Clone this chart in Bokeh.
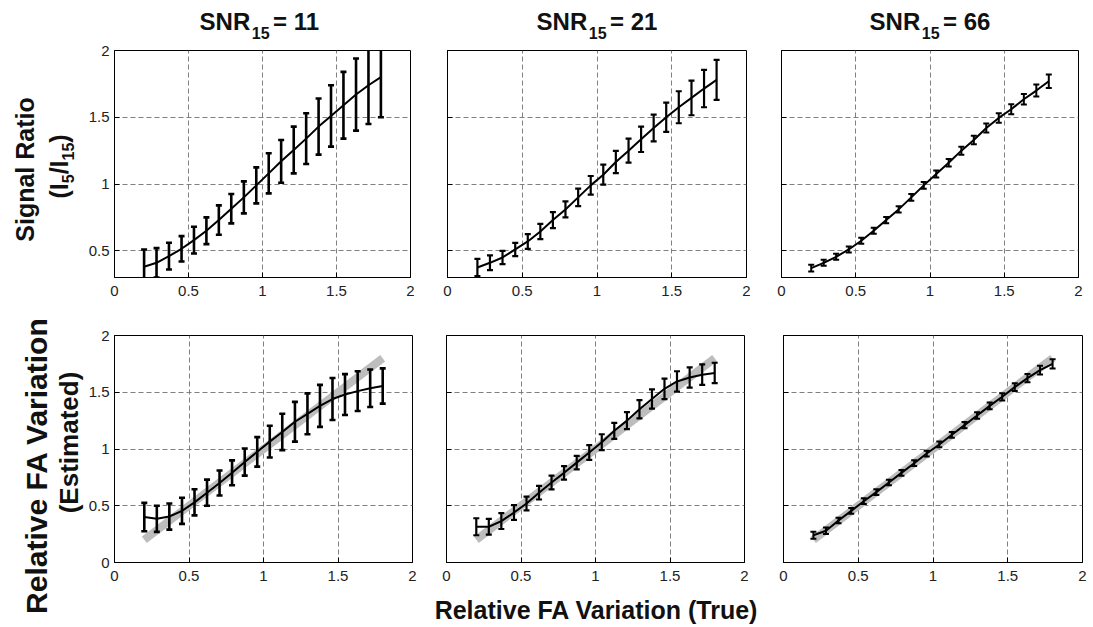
import math
from bokeh.plotting import figure
from bokeh.layouts import row, column
from bokeh.models import Label, FixedTicker, Range1d, CustomJSTickFormatter
from bokeh.embed import file_html
from bokeh.resources import INLINE

# ---------------- data ----------------
x_true = [0.2, 0.284, 0.368, 0.453, 0.537, 0.621, 0.705, 0.789, 0.874, 0.958,
          1.042, 1.126, 1.211, 1.295, 1.379, 1.463, 1.547, 1.632, 1.716, 1.8]
ideal_est = [0.2, 0.284, 0.368, 0.453, 0.537, 0.621, 0.705, 0.789, 0.874, 0.958,
             1.042, 1.126, 1.211, 1.295, 1.379, 1.463, 1.547, 1.632, 1.716, 1.8]

snr_labels = ["11", "21", "66"]

ratio_snr11 = [0.38, 0.41, 0.46, 0.515, 0.58, 0.65, 0.73, 0.815, 0.90, 0.99,
               1.08, 1.17, 1.255, 1.34, 1.43, 1.51, 1.59, 1.67, 1.74, 1.80]
ratio_err11 = [0.13, 0.11, 0.10, 0.095, 0.10, 0.10, 0.11, 0.11, 0.12, 0.135,
               0.15, 0.16, 0.175, 0.19, 0.21, 0.23, 0.25, 0.27, 0.29, 0.30]
ratio_snr21 = [0.375, 0.41, 0.45, 0.51, 0.57, 0.645, 0.73, 0.81, 0.90, 0.99,
               1.07, 1.165, 1.25, 1.335, 1.42, 1.50, 1.575, 1.645, 1.715, 1.78]
ratio_err21 = [0.065, 0.055, 0.05, 0.05, 0.055, 0.057, 0.06, 0.06, 0.065, 0.07,
               0.075, 0.083, 0.09, 0.095, 0.10, 0.11, 0.12, 0.13, 0.14, 0.15]
ratio_snr66 = [0.37, 0.41, 0.455, 0.51, 0.575, 0.65, 0.73, 0.81, 0.90, 0.99,
               1.075, 1.16, 1.25, 1.33, 1.42, 1.495, 1.56, 1.635, 1.70, 1.77]
ratio_err66 = [0.025, 0.022, 0.022, 0.022, 0.022, 0.022, 0.023, 0.024, 0.025, 0.026,
               0.027, 0.028, 0.030, 0.032, 0.034, 0.036, 0.038, 0.040, 0.045, 0.050]

est_snr11 = [0.40, 0.385, 0.405, 0.455, 0.53, 0.615, 0.70, 0.79, 0.885, 0.975,
             1.065, 1.15, 1.24, 1.31, 1.38, 1.44, 1.48, 1.51, 1.535, 1.555]
est_err11 = [0.125, 0.115, 0.115, 0.115, 0.115, 0.115, 0.11, 0.11, 0.12, 0.13,
             0.14, 0.16, 0.175, 0.18, 0.185, 0.185, 0.18, 0.175, 0.165, 0.155]
est_snr21 = [0.315, 0.315, 0.365, 0.44, 0.52, 0.615, 0.705, 0.79, 0.88, 0.97,
             1.06, 1.16, 1.25, 1.35, 1.44, 1.53, 1.595, 1.63, 1.655, 1.67]
est_err21 = [0.075, 0.07, 0.07, 0.065, 0.06, 0.06, 0.06, 0.06, 0.06, 0.065,
             0.07, 0.07, 0.075, 0.08, 0.085, 0.09, 0.09, 0.09, 0.09, 0.09]
est_snr66 = [0.24, 0.28, 0.37, 0.455, 0.54, 0.62, 0.705, 0.79, 0.875, 0.96,
             1.04, 1.125, 1.21, 1.295, 1.38, 1.46, 1.545, 1.625, 1.695, 1.75]
est_err66 = [0.03, 0.028, 0.025, 0.025, 0.025, 0.025, 0.025, 0.025, 0.025, 0.025,
             0.025, 0.025, 0.027, 0.028, 0.03, 0.032, 0.034, 0.036, 0.038, 0.04]

TICKS = [0, 0.5, 1, 1.5, 2]

# ---------------- helpers ----------------
FONT = "Liberation Sans"
INK = "#111111"
WID = {"S": 667, "N": 722, "R": 722, "=": 584, " ": 278, "(": 333, ")": 333,
       "I": 278, "/": 278}
for _d in "0123456789":
    WID[_d] = 556


def tw(s, size):
    return sum(WID[c] for c in s) * size / 1000.0


def style_axis(ax, show_labels, standoff):
    ax.ticker = FixedTicker(ticks=TICKS)
    if show_labels:
        ax.formatter = CustomJSTickFormatter(code="return String(tick);")
    else:
        ax.formatter = CustomJSTickFormatter(code="return '';")
    ax.major_tick_in = 5
    ax.major_tick_out = 0
    ax.minor_tick_line_color = None
    ax.axis_line_color = "black"
    ax.major_tick_line_color = "black"
    ax.major_label_text_font = FONT
    ax.major_label_text_font_size = "15px"
    ax.major_label_text_color = "#222222"
    ax.major_label_standoff = standoff


def panel(width, height, bl, br, bt, bb, yr, show_y):
    p = figure(width=width, height=height, x_range=Range1d(0, 2), y_range=Range1d(*yr),
               output_backend="svg", toolbar_location=None,
               min_border_left=bl, min_border_right=br,
               min_border_top=bt, min_border_bottom=bb)
    p.outline_line_color = "black"
    p.outline_line_alpha = 1.0
    p.outline_line_width = 1
    p.background_fill_color = "white"
    p.border_fill_color = "white"
    style_axis(p.xaxis[0], True, 8)
    style_axis(p.yaxis[0], show_y, 5)
    p.xgrid.ticker = FixedTicker(ticks=TICKS)
    p.ygrid.ticker = FixedTicker(ticks=TICKS)
    p.grid.grid_line_color = "#808080"
    p.grid.grid_line_dash = "5 3"
    p.grid.grid_line_width = 1
    return p


def strip(width, height, xr, yr):
    s = figure(width=width, height=height, x_range=Range1d(*xr), y_range=Range1d(*yr),
               output_backend="svg", toolbar_location=None,
               x_axis_location=None, y_axis_location=None,
               min_border=0, min_border_left=0, min_border_right=0,
               min_border_top=0, min_border_bottom=0)
    s.grid.visible = False
    s.outline_line_color = None
    s.background_fill_color = "white"
    s.border_fill_color = "white"
    return s


def errorbars(p, x, m, e, lw, cap):
    lo = [a - b for a, b in zip(m, e)]
    hi = [a + b for a, b in zip(m, e)]
    p.segment(x0=x, y0=lo, x1=x, y1=hi, line_color="black", line_width=lw)
    p.scatter(x=x + x, y=lo + hi, marker="dash", size=cap, line_color="black",
              line_width=lw)
    p.line(x, m, line_color="black", line_width=2)


# ---------------- geometry (pixels) ----------------
LEFT_W = 85
MAIN_W = 1003
TITLE_H = 41
TOTAL_H = 625
ROW1_H = 266
ROW2_H = 276

# ---------------- top row: signal ratio ----------------
top_range = (0.3, 2)
f1 = panel(330, ROW1_H, 28, 5, 9, 30, top_range, True)
f2 = panel(336, ROW1_H, 32, 5, 9, 30, top_range, False)
f3 = panel(337, ROW1_H, 30, 10, 9, 30, top_range, False)
errorbars(f1, x_true, ratio_snr11, ratio_err11, 2.6, 6)
errorbars(f2, x_true, ratio_snr21, ratio_err21, 2.2, 6)
errorbars(f3, x_true, ratio_snr66, ratio_err66, 2.0, 6)

# ---------------- bottom row: estimated FA ----------------
bot_range = (0, 2)
f4 = panel(332, ROW2_H, 28, 5, 28, 20, bot_range, True)
f5 = panel(332, ROW2_H, 29, 5, 28, 20, bot_range, False)
f6 = panel(339, ROW2_H, 34, 6, 28, 20, bot_range, False)
for fig, m, e, lw in [(f4, est_snr11, est_err11, 2.6), (f5, est_snr21, est_err21, 2.2),
                      (f6, est_snr66, est_err66, 2.0)]:
    fig.line(x_true, ideal_est, line_color="#bdbdbd", line_width=8, line_cap="butt")
    errorbars(fig, x_true, m, e, lw, 6)

# ---------------- title strip (pixel coordinates, y downward) ----------------
ts = strip(MAIN_W, TITLE_H, (LEFT_W, LEFT_W + MAIN_W), (TITLE_H, 0))
title_centers = [259.5, 596.5, 929.5]
for cx, snr in zip(title_centers, snr_labels):
    main, sub = 24, 16
    w1, w2, w3 = tw("SNR", main), tw("15", sub), tw("= " + snr, main)
    start = cx - (w1 + 1.5 + w2 + 3.5 + w3) / 2
    common = dict(text_font=FONT, text_font_style="bold", text_color=INK,
                  text_align="left", text_baseline="alphabetic")
    ts.add_layout(Label(x=start, y=21, text="SNR", text_font_size=f"{main}px", **common))
    ts.add_layout(Label(x=start + w1 + 1.5, y=32, text="15",
                        text_font_size=f"{sub}px", **common))
    ts.add_layout(Label(x=start + w1 + 1.5 + w2 + 3.5, y=21, text="= " + snr,
                        text_font_size=f"{main}px", **common))

# ---------------- x label strip ----------------
XS_H = TOTAL_H - TITLE_H - ROW1_H - ROW2_H
xs = strip(MAIN_W, XS_H, (LEFT_W, LEFT_W + MAIN_W), (TOTAL_H, TOTAL_H - XS_H))
xs.add_layout(Label(x=596, y=609, text="Relative FA Variation (True)", text_font=FONT,
                    text_font_style="bold", text_font_size="25px", text_color=INK,
                    text_align="center", text_baseline="alphabetic"))

# ---------------- y label strip ----------------
ys = strip(LEFT_W, TOTAL_H, (0, LEFT_W), (TOTAL_H, 0))
lab = dict(text_font=FONT, text_font_style="bold", text_color=INK,
           angle=math.pi / 2, text_baseline="alphabetic")
ys.add_layout(Label(x=24, y=169, text="Signal Ratio", text_font_size="25px",
                    text_align="center", **lab))
pieces = [("(", 25, 0), ("I", 25, 0), ("5", 16, 9), ("/", 25, 0), ("I", 25, 0),
          ("15", 16, 9), (")", 25, 0)]
ypos = 198.0
for t, sz, dx in pieces:
    ys.add_layout(Label(x=58.5 + dx, y=ypos, text=t, text_font_size=f"{sz}px",
                        text_align="left", **lab))
    ypos -= tw(t, sz)
ys.add_layout(Label(x=36, y=465, text="Relative FA Variation", text_font_size="30px",
                    text_align="center", **lab))
ys.add_layout(Label(x=68, y=442, text="(Estimated)", text_font_size="26px",
                    text_align="center", **lab))

main_col = column(ts, row(f1, f2, f3, spacing=0), row(f4, f5, f6, spacing=0), xs,
                  spacing=0)
layout = row(ys, main_col, spacing=0)

open("out.html", "w").write(file_html(layout, INLINE))
